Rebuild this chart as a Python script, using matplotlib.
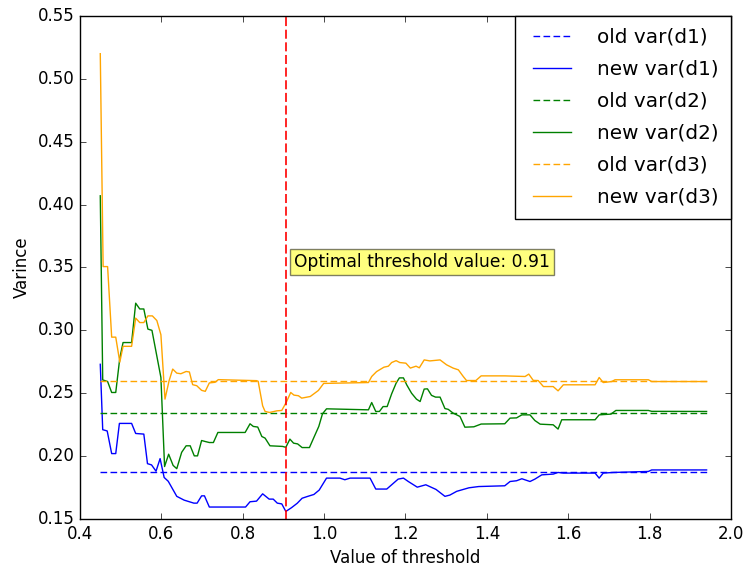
import matplotlib
matplotlib.use("Agg")
import matplotlib.pyplot as plt

plt.style.use("classic")

# --- data ---
old_var = [0.1875, 0.2345, 0.2600]
thr_start, thr_end = 0.45, 1.94
opt_threshold = 0.907

d1_x = [0.45, 0.456, 0.467, 0.478, 0.488, 0.497, 0.527, 0.537, 0.557, 0.566,
        0.576, 0.587, 0.597, 0.607, 0.617, 0.638, 0.656, 0.68, 0.688, 0.699,
        0.706, 0.718, 0.807, 0.818, 0.834, 0.849, 0.865, 0.875, 0.885, 0.896,
        0.906, 0.92, 0.934, 0.946, 0.96, 0.975, 0.988, 1.006, 1.039, 1.051,
        1.064, 1.113, 1.127, 1.154, 1.182, 1.195, 1.207, 1.229, 1.25, 1.275,
        1.297, 1.309, 1.326, 1.356, 1.38, 1.444, 1.457, 1.473, 1.486, 1.506,
        1.518, 1.535, 1.563, 1.575, 1.588, 1.666, 1.676, 1.686, 1.711, 1.797,
        1.805, 1.94]
d1_y = [0.273, 0.221, 0.220, 0.202, 0.202, 0.226, 0.226, 0.218, 0.2175, 0.194,
        0.193, 0.188, 0.198, 0.183, 0.180, 0.168, 0.165, 0.1626, 0.1626, 0.1684,
        0.1684, 0.1595, 0.1595, 0.1637, 0.1642, 0.170, 0.1658, 0.1658, 0.1626, 0.162,
        0.156, 0.159, 0.1625, 0.1665, 0.168, 0.1695, 0.173, 0.1825, 0.1825, 0.1812,
        0.1825, 0.1825, 0.1738, 0.1738, 0.1817, 0.1825, 0.1798, 0.1753, 0.1772, 0.1735,
        0.168, 0.169, 0.172, 0.1748, 0.1758, 0.1764, 0.1798, 0.1804, 0.182, 0.1798,
        0.1817, 0.1851, 0.1857, 0.187, 0.1865, 0.1865, 0.1825, 0.1865, 0.187, 0.1878,
        0.189, 0.189]

d2_x = [0.45, 0.456, 0.468, 0.478, 0.488, 0.498, 0.506, 0.527, 0.537, 0.547,
        0.557, 0.567, 0.577, 0.599, 0.608, 0.618, 0.629, 0.638, 0.650, 0.661,
        0.671, 0.681, 0.689, 0.699, 0.708, 0.718, 0.728, 0.739, 0.806, 0.818,
        0.826, 0.837, 0.847, 0.855, 0.867, 0.898, 0.906, 0.916, 0.925, 0.935,
        0.946, 0.964, 0.976, 0.987, 0.996, 1.006, 1.109, 1.117, 1.127, 1.136,
        1.145, 1.155, 1.166, 1.177, 1.185, 1.195, 1.203, 1.215, 1.227, 1.236,
        1.246, 1.254, 1.264, 1.274, 1.285, 1.297, 1.305, 1.317, 1.334, 1.346,
        1.368, 1.386, 1.444, 1.457, 1.473, 1.486, 1.506, 1.518, 1.531, 1.563,
        1.575, 1.584, 1.666, 1.676, 1.705, 1.717, 1.797, 1.805, 1.94]
d2_y = [0.407, 0.2606, 0.2593, 0.2506, 0.2506, 0.278, 0.2903, 0.2903, 0.3216, 0.317,
        0.317, 0.301, 0.300, 0.2625, 0.1917, 0.2015, 0.1926, 0.190, 0.203, 0.2082,
        0.2082, 0.2002, 0.2002, 0.2124, 0.2116, 0.2108, 0.2108, 0.2188, 0.2188, 0.2257,
        0.2236, 0.2231, 0.2156, 0.2143, 0.2082, 0.2077, 0.207, 0.2135, 0.2103, 0.2097,
        0.2068, 0.2068, 0.2156, 0.2236, 0.2336, 0.2376, 0.2368, 0.2426, 0.2355, 0.2355,
        0.2394, 0.2394, 0.2495, 0.258, 0.2622, 0.2622, 0.2567, 0.25, 0.2453, 0.2434,
        0.2533, 0.2535, 0.2483, 0.2469, 0.2469, 0.2378, 0.2372, 0.2342, 0.2315, 0.223,
        0.2233, 0.2255, 0.2257, 0.2302, 0.2304, 0.2328, 0.2328, 0.2283, 0.2254, 0.2249,
        0.2215, 0.2289, 0.2289, 0.2328, 0.2334, 0.2363, 0.2363, 0.2356, 0.2355]

d3_x = [0.45, 0.457, 0.468, 0.478, 0.488, 0.498, 0.506, 0.527, 0.537, 0.547,
        0.557, 0.567, 0.578, 0.589, 0.599, 0.609, 0.619, 0.628, 0.638, 0.648,
        0.661, 0.669, 0.677, 0.687, 0.699, 0.708, 0.718, 0.732, 0.740, 0.834,
        0.838, 0.849, 0.855, 0.866, 0.884, 0.896, 0.908, 0.918, 0.926, 0.937,
        0.945, 0.966, 0.986, 0.999, 1.109, 1.117, 1.129, 1.147, 1.158, 1.166,
        1.177, 1.186, 1.201, 1.212, 1.226, 1.234, 1.246, 1.260, 1.285, 1.301,
        1.317, 1.330, 1.342, 1.350, 1.373, 1.386, 1.444, 1.494, 1.503, 1.514,
        1.526, 1.539, 1.563, 1.575, 1.588, 1.666, 1.676, 1.686, 1.707, 1.715,
        1.797, 1.805, 1.94]
d3_y = [0.520, 0.3507, 0.3507, 0.2946, 0.2946, 0.2747, 0.2873, 0.2873, 0.3097, 0.3062,
        0.3062, 0.3115, 0.3115, 0.3078, 0.2965, 0.2453, 0.2598, 0.2692, 0.266, 0.2655,
        0.2673, 0.2669, 0.2568, 0.256, 0.2523, 0.2515, 0.2582, 0.2587, 0.2608, 0.26,
        0.2595, 0.240, 0.2355, 0.2347, 0.236, 0.2363, 0.2434, 0.2506, 0.2485, 0.248,
        0.2461, 0.2474, 0.2522, 0.2578, 0.2585, 0.2633, 0.2672, 0.2707, 0.2715, 0.2744,
        0.2759, 0.2744, 0.2739, 0.270, 0.2715, 0.2702, 0.2765, 0.2757, 0.2765, 0.2726,
        0.270, 0.2686, 0.2633, 0.2601, 0.2601, 0.2638, 0.2638, 0.2633, 0.2652, 0.2602,
        0.2601, 0.2553, 0.2553, 0.2519, 0.2567, 0.2567, 0.2625, 0.2585, 0.2593, 0.2607,
        0.2607, 0.2593, 0.2593]

series = [("d1", d1_x, d1_y, "blue"),
          ("d2", d2_x, d2_y, "green"),
          ("d3", d3_x, d3_y, "orange")]

fig = plt.figure(figsize=(7.47, 5.70), dpi=100, facecolor="white")
ax = fig.add_axes([0.107, 0.0895, 0.8716, 0.8825])

for (name, xs, ys, color), old in zip(series, old_var):
    ax.plot([thr_start, thr_end], [old, old], color=color, lw=1,
            dashes=(4.8, 2.4), label=f"old var({name})")
    ax.plot(xs, ys, color=color, lw=1, label=f"new var({name})")

ax.axvline(opt_threshold, color="red", lw=1.2, dashes=(6.5, 2.6))
ax.text(opt_threshold + 0.02, 0.3545, f"Optimal threshold value: {round(opt_threshold, 2)}",
        fontsize=12.3, va="center",
        bbox=dict(facecolor="yellow", alpha=0.5, edgecolor="black", pad=3))

ax.set_xlim(0.4, 2.0)
ax.set_ylim(0.15, 0.55)
ax.set_xlabel("Value of threshold")
ax.set_ylabel("Varince")
ax.legend(loc="upper right", fontsize=14.4, borderaxespad=0, handlelength=2.5,
          handletextpad=1.0, borderpad=0.6, labelspacing=0.65)

fig.savefig("out.png", dpi=100, facecolor="white")
